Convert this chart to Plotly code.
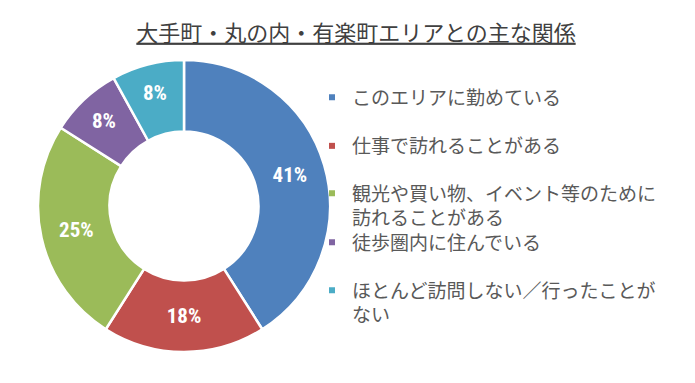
import plotly.graph_objects as go

title_text = "大手町・丸の内・有楽町エリアとの主な関係"
categories = [
    "このエリアに勤めている",
    "仕事で訪れることがある",
    "観光や買い物、イベント等のために<br>訪れることがある",
    "徒歩圏内に住んでいる",
    "ほとんど訪問しない／行ったことが<br>ない",
]
values = [41, 18, 25, 8, 8]
colors = ["#4F81BD", "#C0504D", "#9BBB59", "#8064A2", "#4BACC6"]

W, H = 695, 383
cx, cy, r = 184, 206, 146

# legend layout (pixel positions of each entry's first text line)
legend_left = 312
legend_line_centers = [97.5, 146, 193.5, 242.5, 290.5]
legend_top_offset = 19

fig = go.Figure()
fig.add_trace(
    go.Pie(
        labels=categories,
        values=values,
        sort=False,
        direction="clockwise",
        rotation=0,
        hole=0.51,
        marker=dict(colors=colors, line=dict(color="white", width=2.5)),
        textinfo="percent",
        textposition="inside",
        insidetextorientation="horizontal",
        textfont=dict(family="Liberation Sans Narrow, Roboto Condensed, Roboto",
                      size=21, color="white", weight="bold"),
        domain=dict(x=[(cx - r) / W, (cx + r) / W],
                    y=[(H - cy - r) / H, (H - cy + r) / H]),
        hoverinfo="label+percent",
        showlegend=False,
    )
)

legend_font = dict(family="Noto Sans CJK JP", size=19, color="#595959")
layout_legends = {}
for i, (name, col) in enumerate(zip(categories, colors)):
    key = "legend" if i == 0 else f"legend{i + 1}"
    fig.add_trace(
        go.Scatter(
            x=[None], y=[None], mode="markers", name=name,
            marker=dict(symbol="square", size=6, color=col),
            legend=key, showlegend=True, hoverinfo="skip",
        )
    )
    layout_legends[key] = dict(
        x=legend_left / W, xanchor="left",
        y=1 - (legend_line_centers[i] - legend_top_offset) / H, yanchor="top",
        valign="top", bgcolor="rgba(0,0,0,0)", font=legend_font,
        itemsizing="trace",
    )

fig.update_layout(
    width=W,
    height=H,
    margin=dict(l=0, r=0, t=0, b=0),
    paper_bgcolor="white",
    plot_bgcolor="white",
    xaxis=dict(visible=False),
    yaxis=dict(visible=False),
    title=dict(
        text=title_text,
        x=356 / W,
        xanchor="center",
        y=1 - 33 / H,
        yanchor="middle",
        font=dict(family="Noto Sans CJK JP", size=22, color="#404040", lineposition="under"),
    ),
    **layout_legends,
)

fig.write_html(
    "out.html",
    config={"displayModeBar": False},
    post_script="document.body.style.margin='0px';",
)
